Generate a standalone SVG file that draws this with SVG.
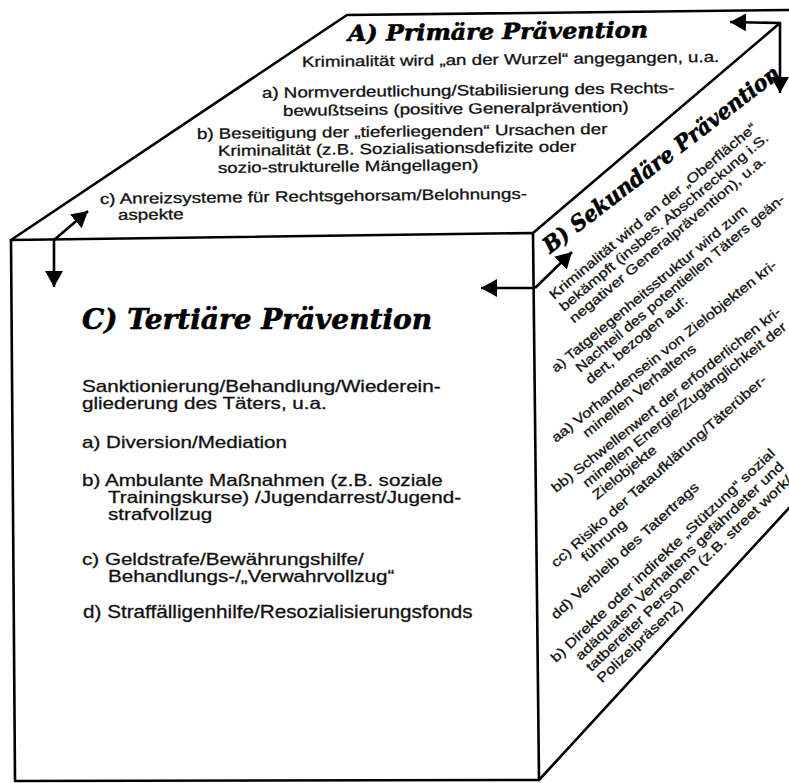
<svg xmlns="http://www.w3.org/2000/svg" width="789" height="783" viewBox="0 0 789 783">
<defs>
<style>
.edge{stroke:#000;stroke-width:2.6;fill:none;stroke-linecap:round;stroke-linejoin:round}
.arr{stroke:#000;stroke-width:2.6;fill:none;marker-end:url(#ah)}
.t{font-family:"Liberation Sans",Arial,sans-serif;fill:#111;stroke:#111;stroke-width:0.3}
.top{font-size:15px}
.front{font-size:16.5px}
.side{font-size:13.4px}
.h{font-family:"DejaVu Serif","Liberation Serif",serif;font-weight:bold;font-style:italic;fill:#000;stroke:#000;stroke-width:0.6}
</style>
<marker id="ah" viewBox="0 0 16 18" refX="16" refY="9" markerWidth="16" markerHeight="18" markerUnits="userSpaceOnUse" orient="auto">
<path d="M0,0 L16,9 L0,18 z" fill="#000"/>
</marker>
</defs>
<rect width="789" height="783" fill="#fff"/>

<g id="cube-edges">
<path class="edge" d="M11,240 L347,15 L789,10"/>
<path class="edge" d="M11,240 L533,233 L539,780 L15,781 Z"/>
<path class="edge" d="M533,233 L780,23"/>
<path class="edge" d="M539,780 L789,508"/>
</g>

<g id="connectors">
<path class="arr" d="M54,240 L54,287"/>
<path class="arr" d="M54,240 L88,211"/>
<path class="arr" d="M535,288 L481,288"/>
<path class="arr" d="M535,288 L572,252"/>
<path class="arr" d="M780,23 L730,22"/>
<path class="arr" d="M780,23 L780,93"/>
</g>

<g id="primaere-praevention" class="t top">
<text class="h" font-size="22" textLength="300" lengthAdjust="spacingAndGlyphs" transform="translate(348,41) rotate(-0.7)">A) Primäre Prävention</text>
<text transform="translate(302,67) rotate(-0.7) scale(1.25,1)">Kriminalität wird „an der Wurzel“ angegangen, u.a.</text>
<text transform="translate(262,98) rotate(-0.7) scale(1.25,1)">a) Normverdeutlichung/Stabilisierung des Rechts-</text>
<text transform="translate(283,116) rotate(-0.7) scale(1.25,1)">bewußtseins (positive Generalprävention)</text>
<text transform="translate(197,139) rotate(-0.7) scale(1.25,1)">b) Beseitigung der „tieferliegenden“ Ursachen der</text>
<text transform="translate(218,156) rotate(-0.7) scale(1.25,1)">Kriminalität (z.B. Sozialisationsdefizite oder</text>
<text transform="translate(218,173) rotate(-0.7) scale(1.25,1)">sozio-strukturelle Mängellagen)</text>
<text transform="translate(100,204) rotate(-0.7) scale(1.25,1)">c) Anreizsysteme für Rechtsgehorsam/Belohnungs-</text>
<text transform="translate(118,220) rotate(-0.7) scale(1.25,1)">aspekte</text>
</g>

<g id="tertiaere-praevention" class="t front">
<text class="h" font-size="28" textLength="350" lengthAdjust="spacingAndGlyphs" x="82" y="329">C) Tertiäre Prävention</text>
<text transform="translate(82,392) scale(1.25,1)">Sanktionierung/Behandlung/Wiederein-</text>
<text transform="translate(82,409) scale(1.25,1)">gliederung des Täters, u.a.</text>
<text transform="translate(82,448) scale(1.25,1)">a) Diversion/Mediation</text>
<text transform="translate(82,486) scale(1.25,1)">b) Ambulante Maßnahmen (z.B. soziale</text>
<text transform="translate(108,503) scale(1.25,1)">Trainingskurse) /Jugendarrest/Jugend-</text>
<text transform="translate(108,520) scale(1.25,1)">strafvollzug</text>
<text transform="translate(82,565) scale(1.25,1)">c) Geldstrafe/Bewährungshilfe/</text>
<text transform="translate(108,582) scale(1.25,1)">Behandlungs-/„Verwahrvollzug“</text>
<text font-size="19" transform="translate(83,618) scale(1.09,1)">d) Straffälligenhilfe/Resozialisierungsfonds</text>
</g>

<g id="sekundaere-praevention" class="t side">
<text class="h" font-size="22" textLength="292" lengthAdjust="spacingAndGlyphs" transform="translate(550,254) rotate(-37.5)">B) Sekundäre Prävention</text>
<g transform="translate(554,300) rotate(-40) scale(1.24,1)">
<text x="0" y="0">Kriminalität wird an der „Oberfläche“</text>
<text x="0" y="15.5">bekämpft (insbes. Abschreckung i.S.</text>
<text x="0" y="31">negativer Generalprävention), u.a.</text>
</g>
<g transform="translate(556,373) rotate(-40) scale(1.19,1)">
<text x="0" y="0">a) Tatgelegenheitsstruktur wird zum</text>
<text x="15.6" y="15.5">Nachteil des potentiellen Täters geän-</text>
<text x="15.6" y="31">dert, bezogen auf:</text>
</g>
<g transform="translate(556,443) rotate(-38.5) scale(1.2,1)">
<text x="0" y="0">aa) Vorhandensein von Zielobjekten kri-</text>
<text x="23.1" y="15.5">minellen Verhaltens</text>
</g>
<g transform="translate(556,493) rotate(-38.5) scale(1.2,1)">
<text x="0" y="0">bb) Schwellenwert der erforderlichen kri-</text>
<text x="23.1" y="15.5">minellen Energie/Zugänglichkeit der</text>
<text x="23.1" y="31">Zielobjekte</text>
</g>
<g transform="translate(556,568) rotate(-41.5) scale(1.22,1)">
<text x="0" y="0">cc) Risiko der Tataufklärung/Täterüber-</text>
<text x="21.6" y="15.5">führung</text>
</g>
<g transform="translate(556,620) rotate(-42.5) scale(1.22,1)">
<text x="0" y="0">dd) Verbleib des Tatertrags</text>
</g>
<g transform="translate(556,663) rotate(-43.5) scale(1.23,1)">
<text x="0" y="0">b) Direkte oder indirekte „Stützung“ sozial</text>
<text x="15.6" y="15.5">adäquaten Verhaltens gefährdeter und</text>
<text x="15.6" y="31">tatbereiter Personen (z.B. street work/</text>
<text x="15.6" y="46.5">Polizeipräsenz)</text>
</g>
</g>
</svg>
